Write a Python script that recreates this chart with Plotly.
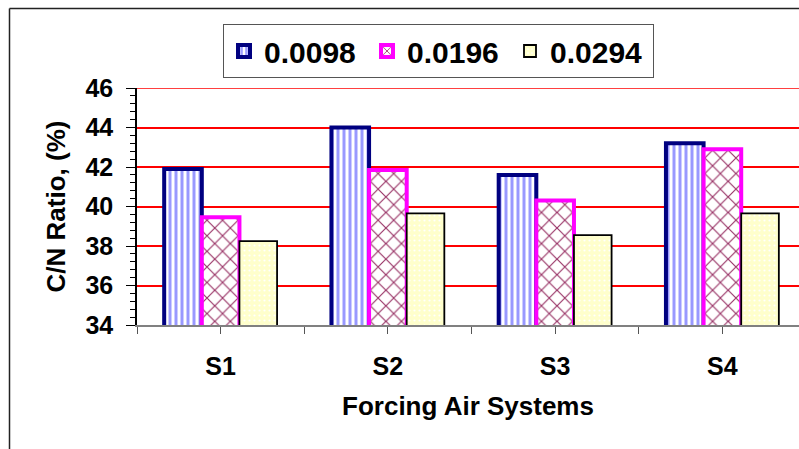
import plotly.graph_objects as go

categories = ["S1", "S2", "S3", "S4"]
series_names = ["0.0098", "0.0196", "0.0294"]
vals_0098 = [41.9, 44.0, 41.6, 43.2]
vals_0196 = [39.45, 41.85, 40.3, 42.9]
vals_0294 = [38.25, 39.65, 38.55, 39.65]
y_ticks = [34, 36, 38, 40, 42, 44, 46]

FONT = "Liberation Sans, Arial, sans-serif"

styles = [
    dict(line=dict(color="#000080", width=4),
         pattern=dict(shape="|", fgcolor="#9999ff", bgcolor="#ffffff", size=6, solidity=0.5, fillmode="replace")),
    dict(line=dict(color="#ff00ff", width=4),
         pattern=dict(shape="x", fgcolor="#993366", bgcolor="#ffffff", size=11, solidity=0.2, fillmode="replace")),
    dict(line=dict(color="#000000", width=1.8),
         pattern=dict(shape=".", fgcolor="#ffffff", bgcolor="#ffffcc", size=5, solidity=0.15, fillmode="replace")),
]

fig = go.Figure()
for name, vals, st in zip(series_names, [vals_0098, vals_0196, vals_0294], styles):
    fig.add_trace(go.Bar(
        x=categories, y=vals, name=name,
        base=0,
        marker=dict(color="#ffffff", line=st["line"], pattern=st["pattern"]),
    ))

fig.update_layout(
    width=799, height=449,
    margin=dict(l=137, r=0, t=88, b=124, autoexpand=False),
    paper_bgcolor="white", plot_bgcolor="white",
    barmode="group", bargap=0.325, bargroupgap=0,
    font=dict(family=FONT, size=25, color="black", weight="bold"),
    showlegend=True,
    legend=dict(
        orientation="h", xref="container", yref="container",
        x=223/799, xanchor="left", y=1-24/449, yanchor="top",
        bordercolor="#555555", borderwidth=1, bgcolor="white",
        font=dict(family=FONT, size=30, color="black", weight="bold"),
        entrywidth=98, itemwidth=30, tracegroupgap=0,
    ),
    xaxis=dict(
        type="category", range=[-0.5, 3.458],
        showline=True, linecolor="#808080", linewidth=1.5,
        ticks="outside", ticklen=7, tickcolor="#555555", tickwidth=1,
        ticklabelstandoff=11,
        showgrid=False, zeroline=False,
        title=dict(text="Forcing Air Systems", font=dict(size=26), standoff=18),
        minor=dict(ticks="outside", tickvals=[-0.5, 0.5, 1.5, 2.5, 3.5], ticklen=7, tickcolor="#555555"),
    ),
    yaxis=dict(
        range=[34, 46], tickvals=y_ticks,
        showline=True, linecolor="#000000", linewidth=1.5,
        ticks="outside", ticklen=9, tickcolor="#000000", tickwidth=1,
        ticklabelstandoff=8,
        showgrid=True, gridcolor="#ff0000", gridwidth=1.5,
        zeroline=False,
        minor=dict(ticks="outside", dtick=0.4, tick0=34, ticklen=5, tickcolor="#000000", showgrid=False),
        title=dict(text="C/N Ratio, (%)", font=dict(size=26), standoff=12),
    ),
    shapes=[
        dict(type="line", xref="paper", yref="y", layer="below",
             x0=0, x1=1, y0=y_ticks[-1], y1=y_ticks[-1],
             line=dict(color="#ff0000", width=1.5)),
        dict(type="line", xref="paper", yref="paper",
             x0=(9.5-137)/662, x1=1.02, y0=1+(88-8.5)/237, y1=1+(88-8.5)/237,
             line=dict(color="#222222", width=1.5)),
        dict(type="line", xref="paper", yref="paper",
             x0=(9.5-137)/662, x1=(9.5-137)/662, y0=1+(88-8.5)/237, y1=-0.6,
             line=dict(color="#222222", width=1.5)),
    ],
)

fig.write_html("out.html")
